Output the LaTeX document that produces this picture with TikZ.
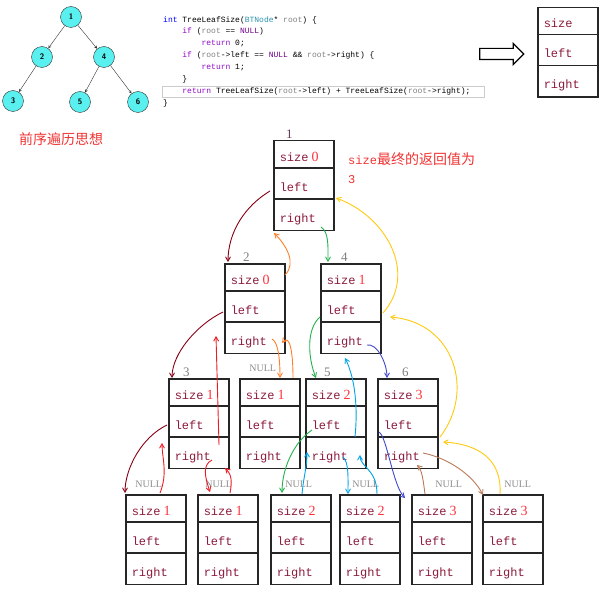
\documentclass[tikz,border=0pt]{standalone}
\usepackage{fontspec}
\usepackage{tikz}
\usetikzlibrary{arrows, positioning, shapes, calc}
\usepackage{xcolor}

\newfontfamily\recfont{Liberation Mono}
\newfontfamily\serifnum{Liberation Serif}
\newfontfamily\cjkfont{Noto Sans CJK SC}

\definecolor{fldred}{RGB}{139,26,58}
\definecolor{valred}{RGB}{255,50,60}
\definecolor{notered}{RGB}{240,50,50}
\definecolor{numdark}{RGB}{100,60,90}
\definecolor{treecyan}{RGB}{90,240,240}
\definecolor{darkred}{RGB}{136,0,21}
\definecolor{paintorange}{RGB}{255,127,39}
\definecolor{paintgreen}{RGB}{34,177,76}
\definecolor{paintgold}{RGB}{255,201,14}
\definecolor{paintred}{RGB}{237,28,36}
\definecolor{paintblue}{RGB}{0,162,232}
\definecolor{paintindigo}{RGB}{63,72,204}
\definecolor{paintbrown}{RGB}{185,122,87}
\definecolor{kwblue}{RGB}{0,0,255}
\definecolor{kwpurple}{RGB}{143,8,196}
\definecolor{macropurple}{RGB}{111,0,138}
\definecolor{typeteal}{RGB}{43,145,175}
\definecolor{paramgray}{RGB}{128,128,128}

\newcommand{\recfields}[1]{\makebox[48pt][l]{\rule[-6pt]{0pt}{25.5pt}size\hspace{3pt}{\serifnum\fontsize{14}{14}\selectfont\color{valred}#1}}%
\nodepart{second}\makebox[48pt][l]{\rule[-7pt]{0pt}{29.5pt}left}%
\nodepart{third}\makebox[48pt][l]{\rule[-7.5pt]{0pt}{30pt}right}}

\begin{document}
\begin{tikzpicture}[x=1pt, y=-1pt, >=angle 60,
treenode/.style={circle, draw=black!80, fill=treecyan, minimum size=21pt, inner sep=0pt, font=\sffamily\bfseries\fontsize{8}{9}\selectfont},
spitrecnode/.style={rectangle split, rectangle split parts=3, draw=black!85, line width=1.5pt, inner xsep=6pt, inner ysep=0pt, text=fldred, font=\recfont\fontsize{12}{14}\selectfont},
codeblk/.style={align=left, inner sep=0pt, font=\recfont\fontsize{8}{11.86}\selectfont},
numlbl/.style={inner sep=0pt, text=gray, font=\serifnum\fontsize{13}{13}\selectfont},
nulllbl/.style={inner sep=0pt, text=gray!90, font=\serifnum\fontsize{10}{10}\selectfont},
handline/.style={line width=0.9pt},
]
\useasboundingbox (0,0) rectangle (604,588);

%Tree
\node[treenode] at (71,17) (t1) {1};
\node[treenode] at (42,57) (t2) {2};
\node[treenode] at (104,57) (t4) {4};
\node[treenode] at (13,101) (t3) {3};
\node[treenode] at (80,102) (t5) {5};
\node[treenode] at (138,102) (t6) {6};
\draw [->, >=stealth] (t1) [black!80] -- (t2);
\draw [->, >=stealth] (t1) [black!80] -- (t4);
\draw [->, >=stealth] (t2) [black!80] -- (t3);
\draw [->, >=stealth] (t4) [black!80] -- (t5);
\draw [->, >=stealth] (t4) [black!80] -- (t6);
\node[text=notered, font=\cjkfont\fontsize{14}{14}\selectfont] at (61,139) (idea) {前序遍历思想};

%Code
\draw [black!20] (162,86) rectangle (484,97);
\node[codeblk, anchor=west] at (163,61.5) (code) {%
\textcolor{kwblue}{int} TreeLeafSize(\textcolor{typeteal}{BTNode}* \textcolor{paramgray}{root}) \{\\
\phantom{xxxx}\textcolor{kwpurple}{if} (\textcolor{paramgray}{root} == \textcolor{macropurple}{NULL})\\
\phantom{xxxxxxxx}\textcolor{kwpurple}{return} 0;\\
\phantom{xxxx}\textcolor{kwpurple}{if} (\textcolor{paramgray}{root}->left == \textcolor{macropurple}{NULL} \&\& \textcolor{paramgray}{root}->right) \{\\
\phantom{xxxxxxxx}\textcolor{kwpurple}{return} 1;\\
\phantom{xxxx}\}\\
\phantom{xxxx}\textcolor{kwpurple}{return} TreeLeafSize(\textcolor{paramgray}{root}->left) + TreeLeafSize(\textcolor{paramgray}{root}->right);\\
\}};
\node[single arrow, draw=black, line width=1.2pt, minimum height=44pt, inner sep=5pt, single arrow head extend=5pt] at (499,54) (impl) {};
\node[spitrecnode, anchor=north west] at (537,7) (proto) {\recfields{}};

%Nodes
\node[spitrecnode, anchor=north west] at (273,140) (n1) {\recfields{0}};
\node[spitrecnode, anchor=north west] at (224,263) (n2) {\recfields{0}};
\node[spitrecnode, anchor=north west] at (320,263) (n4) {\recfields{1}};
\node[spitrecnode, anchor=north west] at (168,378) (n3) {\recfields{1}};
\node[spitrecnode, anchor=north west] at (239,378) (n2r) {\recfields{1}};
\node[spitrecnode, anchor=north west] at (305,378) (n5) {\recfields{2}};
\node[spitrecnode, anchor=north west] at (377,378) (n6) {\recfields{3}};
\node[spitrecnode, anchor=north west] at (125,494) (n3l) {\recfields{1}};
\node[spitrecnode, anchor=north west] at (197,494) (n3r) {\recfields{1}};
\node[spitrecnode, anchor=north west] at (270,494) (n5l) {\recfields{2}};
\node[spitrecnode, anchor=north west] at (339,494) (n5r) {\recfields{2}};
\node[spitrecnode, anchor=north west] at (411,494) (n6l) {\recfields{3}};
\node[spitrecnode, anchor=north west] at (482,494) (n6r) {\recfields{3}};

%Labels
\node[numlbl, text=numdark, above right=1pt and 13pt of n1.north west] (k1) {1};
\node[numlbl, above right=1pt and 19pt of n2.north west] (k2) {2};
\node[numlbl, above right=1pt and 21pt of n4.north west] (k4) {4};
\node[numlbl, above right=1pt and 15pt of n3.north west] (k3) {3};
\node[numlbl, above right=1pt and 19pt of n5.north west] (k5) {5};
\node[numlbl, above right=1pt and 25pt of n6.north west] (k6) {6};
\node[nulllbl, above=6pt of n2r.north, xshift=-7pt] (z0) {NULL};
\node[nulllbl, above=6pt of n3l.north, xshift=-7pt] (z1) {NULL};
\node[nulllbl, above=6pt of n3r.north, xshift=-9pt] (z2) {NULL};
\node[nulllbl, above=6pt of n5l.north, xshift=-2pt] (z3) {NULL};
\node[nulllbl, above=6pt of n5r.north, xshift=-4pt] (z4) {NULL};
\node[nulllbl, above=6pt of n6l.north, xshift=7pt] (z5) {NULL};
\node[nulllbl, above=6pt of n6r.north, xshift=5pt] (z6) {NULL};
\node[align=left, text=notered, anchor=west, inner sep=0pt, font=\cjkfont\fontsize{14}{19}\selectfont] at (348,168.5) (note) {{\recfont\fontsize{12}{19}\selectfont size}最终的返回值为\\{\recfont\fontsize{12}{19}\selectfont 3}};

%Lines
\draw [->] ($(n1.north west)+(-3,51)$) [darkred, handline] .. controls +(-25,15) and +(0,-30) .. ($(n2.north west)+(4,-1)$);
\draw [->] ($(n2.north west)+(61,12)$) [paintorange, handline] .. controls +(12,-12) and +(12,12) .. ($(n1.north west)+(1,93)$);
\draw [->] ($(n1.north west)+(48,87)$) [paintgreen, handline] .. controls +(8,5) and +(0,-15) .. ($(n4.north west)+(8,-1)$);
\draw [->] ($(n4.north west)+(63,50)$) [paintgold, handline] .. controls +(35,-40) and +(50,18) .. ($(n1.north west)+(63,58)$);
\draw [->] ($(n2.north west)+(-1,49)$) [darkred, handline] .. controls +(-25,12) and +(0,-25) .. ($(n3.north west)+(4,0)$);
\draw [->] ($(n3.north west)+(51,67)$) [paintred, handline] -- ($(n2.north west)+(-8,73)$);
\draw [->] ($(n2.north west)+(48,76)$) [paintorange, handline] .. controls +(6,3) and +(0,-20) .. ($(n2r.north west)+(41,0)$);
\draw [->] ($(n2r.north west)+(54,0)$) [paintorange, handline] .. controls +(0,-25) and +(8,-10) .. ($(n2.north west)+(58,80)$);
\draw [->] ($(n4.north west)+(0,54)$) [paintgreen, handline] .. controls +(-14,12) and +(-8,-20) .. ($(n5.north west)+(11,0)$);
\draw [->] ($(n5.north west)+(50,59)$) [paintblue, handline] .. controls +(3,-30) and +(10,20) .. ($(n4.north west)+(25,95)$);
\draw [->] ($(n4.north west)+(47,82)$) [paintindigo, handline] .. controls +(10,-2) and +(0,-15) .. ($(n6.north west)+(10,0)$);
\draw [->] ($(n6.north west)+(63,59)$) [paintgold, handline] .. controls +(35,-45) and +(65,5) .. ($(n4.north west)+(70,54)$);
\draw [->] ($(n6r.north west)+(18,0)$) [paintgold, handline] .. controls +(2,-35) and +(35,2) .. ($(n6.north west)+(66,64)$);
\draw [->] ($(n6.north west)+(46,75)$) [paintbrown, handline] .. controls +(25,5) and +(-10,-20) .. ($(n6r.north west)+(1,1)$);
\draw [->] ($(n6l.north west)+(14,0)$) [paintbrown, handline] .. controls +(-2,-15) and +(5,5) .. ($(n6.north west)+(40,87)$);
\draw [->] ($(n6.north west)+(2,54)$) [paintindigo, handline] .. controls +(8,5) and +(-12,-12) .. ($(n6l.north west)+(-6,4)$);
\draw [->] ($(n5.north west)+(38,79)$) [paintblue, handline] .. controls +(6,5) and +(0,-15) .. ($(n5r.north west)+(9,0)$);
\draw [->] ($(n5r.north west)+(38,0)$) [paintblue, handline] .. controls +(0,-25) and +(0,12) .. ($(n5.north west)+(55,77)$);
\draw [->] ($(n5l.north west)+(32,0)$) [paintblue, handline] .. controls +(2,-20) and +(0,15) .. ($(n5.north west)+(2,74)$);
\draw [->] ($(n5.north west)+(7,52)$) [paintgreen, handline] .. controls +(-18,12) and +(0,-25) .. ($(n5l.north west)+(12,-1)$);
\draw [->] ($(n3.north west)+(-1,47)$) [darkred, handline] .. controls +(-25,12) and +(0,-25) .. ($(n3l.north west)+(0,-1)$);
\draw [->] ($(n3l.north west)+(35,-1)$) [paintred, handline] .. controls +(8,-20) and +(0,15) .. ($(n3.north west)+(-6,65)$);
\draw [->] ($(n3.north west)+(44,82)$) [paintred, handline] .. controls +(-10,5) and +(-5,-15) .. ($(n3r.north west)+(13,-2)$);
\draw [->] ($(n3r.north west)+(33,-1)$) [paintred, handline] .. controls +(3,-15) and +(5,5) .. ($(n3.north west)+(57,90)$);

\end{tikzpicture}
\end{document}
